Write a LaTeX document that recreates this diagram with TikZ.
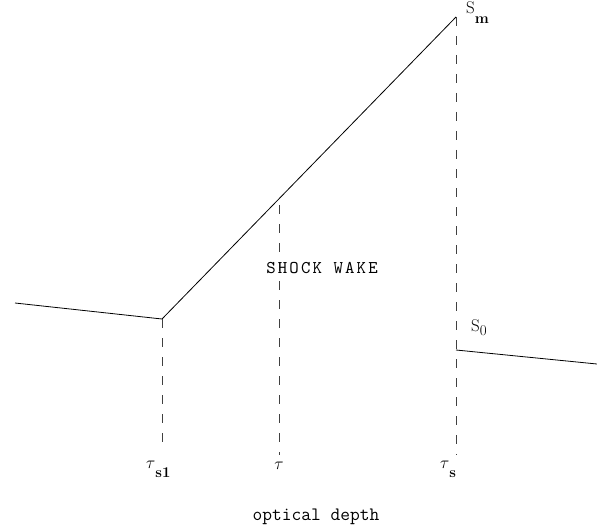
\documentclass[tikz,border=0pt]{standalone}
\usepackage{fontspec}
\usepackage{tikz}
\usetikzlibrary{positioning}
\newfontfamily\wakefont[Extension=.otf, LetterSpace=12]{lmmono10-regular}
% subscripts of the reference sit low and heavy
\newcommand{\dropsub}[2]{\raisebox{-#1}{\fontsize{15}{18}\selectfont\bfseries #2}}
\newcommand{\bigtau}{{\fontsize{19}{22}\selectfont$\tau$}}

\begin{document}
\begin{tikzpicture}[
    x=1bp, y=-1bp,
    curve/.style={line width=0.8bp},
    guide/.style={line width=0.8bp, black!75, dash pattern=on 9bp off 10bp},
    lbl/.style={inner sep=0pt, font=\fontsize{17}{20}\selectfont},
    wakelbl/.style={inner sep=0pt, font=\fontsize{18}{21}\wakefont},
    axislbl/.style={inner sep=0pt, font=\fontsize{19}{22}\ttfamily}
]
\useasboundingbox (0,0) rectangle (597,527);

% emission profile
\coordinate (start) at (15,303);
\coordinate (shock1) at (162,319);
\coordinate (peak) at (456,17);
\coordinate (drop) at (456,350);
\coordinate (end) at (597,364);
\coordinate (wake) at (279,205);

% feet of the depth markers
\coordinate (foot1) at (162,447);
\coordinate (foot) at (279,455);
\coordinate (foots) at (456,455);

\draw[curve] (start) -- (shock1) -- (peak);
\draw[curve] (drop) -- (end);

\draw[guide] (shock1) -- (foot1);
\draw[guide] (wake) -- (foot);
\draw[guide] (peak) -- (foots);

\node[lbl, anchor=base west] (smax) at (466,14) {S\dropsub{10bp}{m}};
\node[lbl, anchor=base west] (szero) at (471,331) {S\raisebox{-4bp}{\fontsize{15}{18}\selectfont 0}};
\node[lbl, anchor=base west] (tau1) at (146,468) {\bigtau\dropsub{9bp}{s1}};
\node[lbl, anchor=base] (tau) at (279,469) {\bigtau};
\node[lbl, anchor=base west] (taus) at (440,468) {\bigtau\dropsub{9bp}{s}};
\node[wakelbl, anchor=base] (wakename) at (322,273) {SHOCK WAKE};
\node[axislbl, anchor=base] (axis) at (316,520) {optical depth};

\end{tikzpicture}
\end{document}
